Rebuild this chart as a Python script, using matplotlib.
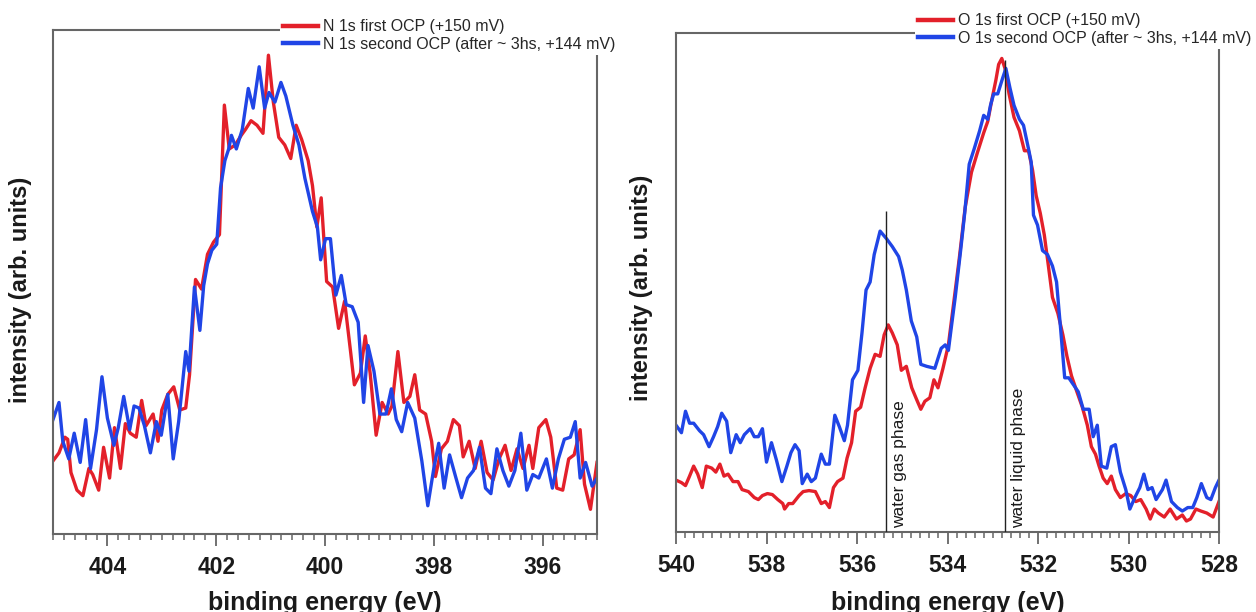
import matplotlib
matplotlib.use("Agg")
import matplotlib.pyplot as plt
from matplotlib.ticker import MultipleLocator, FixedLocator

plt.rcParams['font.family'] = ['Liberation Sans', 'DejaVu Sans']

# ---------------- data: N 1s ----------------
n1s_first_E = [405.00, 404.89, 404.78, 404.73, 404.67, 404.56, 404.45, 404.34, 404.27, 404.16,
               404.07, 403.96, 403.87, 403.76, 403.67, 403.58, 403.47, 403.37, 403.29, 403.16,
               403.07, 403.00, 402.89, 402.78, 402.67, 402.56, 402.49, 402.38, 402.27, 402.16,
               402.05, 401.94, 401.85, 401.76, 401.65, 401.54, 401.46, 401.36, 401.25, 401.14,
               401.04, 400.95, 400.85, 400.74, 400.63, 400.53, 400.43, 400.31, 400.23, 400.15,
               400.07, 399.97, 399.86, 399.75, 399.64, 399.53, 399.46, 399.35, 399.26, 399.17,
               399.06, 398.95, 398.84, 398.77, 398.66, 398.55, 398.44, 398.35, 398.26, 398.15,
               398.04, 397.97, 397.86, 397.75, 397.64, 397.53, 397.46, 397.35, 397.24, 397.13,
               397.02, 396.91, 396.80, 396.69, 396.58, 396.47, 396.36, 396.25, 396.18, 396.07,
               395.94, 395.85, 395.74, 395.63, 395.52, 395.42, 395.31, 395.23, 395.12, 395.00]
n1s_first_I = [14.5, 16.1, 19.2, 18.8, 12.2, 8.7, 7.6, 13.0, 11.8, 8.7,
               17.2, 11.1, 21.1, 13.0, 21.9, 20.0, 19.2, 26.5, 21.5, 23.8,
               18.4, 24.6, 27.7, 29.2, 24.6, 25.0, 31.6, 50.5, 48.6, 55.5,
               57.9, 59.4, 85.1, 76.4, 77.2, 79.1, 80.3, 82.0, 81.1, 79.5,
               95.0, 85.7, 78.7, 77.2, 74.5, 81.1, 78.3, 74.1, 69.1, 60.9,
               66.7, 50.1, 49.0, 40.8, 46.2, 36.2, 29.6, 31.9, 39.3, 31.9,
               19.6, 26.1, 23.8, 25.4, 36.2, 26.1, 27.3, 31.6, 24.6, 23.8,
               18.4, 11.4, 16.9, 18.4, 22.7, 21.5, 15.3, 18.4, 13.0, 18.4,
               12.2, 10.7, 14.9, 17.6, 12.6, 16.9, 13.0, 17.6, 13.0, 21.1,
               22.7, 19.2, 9.1, 8.7, 14.9, 15.7, 20.7, 9.9, 4.9, 14.2]

n1s_second_E = [405.00, 404.89, 404.82, 404.71, 404.61, 404.50, 404.40, 404.31, 404.20, 404.10,
                404.00, 403.88, 403.80, 403.70, 403.59, 403.51, 403.42, 403.32, 403.21, 403.10,
                403.01, 402.89, 402.79, 402.69, 402.56, 402.50, 402.40, 402.30, 402.23, 402.16,
                402.08, 401.99, 401.92, 401.84, 401.77, 401.72, 401.63, 401.52, 401.41, 401.32,
                401.21, 401.11, 401.03, 400.92, 400.81, 400.72, 400.59, 400.48, 400.37, 400.23,
                400.14, 400.08, 399.99, 399.90, 399.80, 399.70, 399.61, 399.50, 399.39, 399.29,
                399.21, 399.10, 398.99, 398.88, 398.78, 398.69, 398.59, 398.48, 398.35, 398.22,
                398.11, 398.00, 397.91, 397.81, 397.71, 397.60, 397.49, 397.38, 397.27, 397.16,
                397.05, 396.95, 396.84, 396.73, 396.62, 396.51, 396.40, 396.29, 396.18, 396.07,
                395.93, 395.82, 395.71, 395.60, 395.49, 395.40, 395.31, 395.21, 395.09, 395.00]
n1s_second_I = [22.7, 26.1, 18.4, 14.9, 20.0, 14.2, 22.7, 13.0, 20.7, 31.2,
                23.0, 17.6, 21.1, 27.3, 20.7, 25.4, 25.0, 21.5, 16.1, 22.3,
                19.6, 27.7, 14.9, 22.3, 36.2, 32.3, 49.0, 40.4, 49.3, 53.6,
                56.3, 57.5, 68.7, 74.1, 76.4, 79.1, 76.4, 80.3, 88.4, 84.5,
                92.7, 84.5, 87.6, 85.7, 89.6, 86.9, 81.1, 77.2, 70.6, 64.0,
                60.9, 54.4, 58.6, 58.6, 47.4, 51.3, 45.5, 45.1, 42.0, 26.1,
                37.4, 32.3, 23.8, 23.8, 28.8, 22.7, 20.3, 26.1, 23.0, 14.5,
                5.6, 13.0, 18.0, 9.1, 15.7, 11.4, 7.2, 11.1, 12.6, 17.2,
                9.1, 8.0, 16.9, 12.6, 9.5, 12.6, 20.0, 8.7, 11.8, 11.1,
                14.9, 9.1, 14.9, 18.8, 19.2, 22.3, 11.1, 14.2, 9.5, 11.1]

# ---------------- data: O 1s ----------------
o1s_first_E = [540.00, 539.88, 539.79, 539.70, 539.61, 539.52, 539.42, 539.33, 539.21, 539.12,
               539.03, 538.94, 538.85, 538.74, 538.63, 538.54, 538.40, 538.27, 538.18, 538.09,
               537.98, 537.87, 537.75, 537.64, 537.60, 537.51, 537.42, 537.28, 537.19, 537.06,
               536.92, 536.79, 536.70, 536.61, 536.52, 536.43, 536.31, 536.22, 536.12, 536.03,
               535.92, 535.82, 535.71, 535.60, 535.49, 535.40, 535.31, 535.22, 535.11, 535.02,
               534.91, 534.79, 534.68, 534.59, 534.50, 534.39, 534.30, 534.21, 534.10, 533.98,
               533.87, 533.74, 533.61, 533.47, 533.34, 533.20, 533.11, 533.02, 532.93, 532.87,
               532.80, 532.73, 532.64, 532.53, 532.41, 532.30, 532.21, 532.12, 532.04, 531.95,
               531.86, 531.77, 531.68, 531.56, 531.45, 531.36, 531.26, 531.14, 531.02, 530.91,
               530.82, 530.73, 530.65, 530.56, 530.47, 530.38, 530.29, 530.18, 530.06, 529.95,
               529.84, 529.73, 529.61, 529.52, 529.43, 529.34, 529.21, 529.08, 528.94, 528.81,
               528.72, 528.63, 528.51, 528.40, 528.27, 528.13, 528.00]
o1s_first_I = [10.4, 9.9, 9.3, 11.2, 13.2, 11.6, 8.9, 13.2, 12.8, 12.0,
               13.6, 11.2, 11.6, 10.1, 10.1, 8.5, 8.1, 6.9, 6.5, 7.3,
               7.7, 7.5, 6.5, 5.7, 4.6, 5.7, 5.7, 7.3, 8.1, 8.3,
               8.1, 5.7, 6.1, 4.9, 8.9, 10.1, 10.8, 14.8, 17.9, 24.2,
               25.0, 28.9, 32.8, 35.6, 35.2, 39.5, 41.5, 39.9, 37.5, 32.4,
               33.2, 28.9, 26.5, 24.6, 26.2, 26.9, 30.5, 28.9, 32.8, 37.5,
               45.4, 54.8, 65.0, 72.1, 76.0, 80.0, 82.3, 86.6, 90.6, 93.7,
               94.9, 92.9, 87.8, 83.1, 80.4, 76.4, 76.4, 72.5, 67.4, 63.9,
               59.5, 53.3, 47.0, 43.8, 39.5, 35.2, 31.3, 28.1, 25.0, 21.4,
               17.1, 15.6, 13.2, 10.8, 9.7, 11.2, 8.5, 6.9, 7.7, 7.3,
               6.1, 6.5, 4.6, 2.6, 4.6, 3.8, 3.0, 4.6, 2.6, 3.4,
               2.2, 2.6, 4.6, 4.2, 3.8, 3.0, 6.1]

o1s_second_E = [540.00, 539.88, 539.79, 539.70, 539.61, 539.48, 539.39, 539.27, 539.17, 539.08,
                538.99, 538.88, 538.79, 538.67, 538.58, 538.49, 538.36, 538.27, 538.18, 538.09,
                538.00, 537.89, 537.78, 537.66, 537.55, 537.46, 537.37, 537.28, 537.21, 537.10,
                537.01, 536.92, 536.79, 536.70, 536.61, 536.49, 536.39, 536.28, 536.21, 536.10,
                535.98, 535.89, 535.80, 535.71, 535.62, 535.49, 535.35, 535.22, 535.08, 535.00,
                534.91, 534.80, 534.68, 534.59, 534.46, 534.28, 534.14, 534.05, 533.98, 533.92,
                533.83, 533.71, 533.62, 533.52, 533.41, 533.29, 533.20, 533.11, 533.05, 532.98,
                532.89, 532.78, 532.71, 532.62, 532.53, 532.41, 532.32, 532.21, 532.15, 532.10,
                532.01, 531.90, 531.79, 531.68, 531.59, 531.50, 531.41, 531.32, 531.23, 531.11,
                531.00, 530.87, 530.78, 530.69, 530.60, 530.48, 530.38, 530.29, 530.18, 530.06,
                529.97, 529.86, 529.75, 529.66, 529.57, 529.48, 529.39, 529.25, 529.17, 529.05,
                528.92, 528.81, 528.69, 528.58, 528.49, 528.39, 528.27, 528.18, 528.08, 528.00]
o1s_second_I = [21.4, 19.9, 24.2, 21.8, 21.8, 20.3, 19.5, 17.1, 19.1, 21.1,
                23.8, 22.2, 15.9, 19.5, 17.9, 19.5, 20.7, 19.1, 19.1, 20.7,
                14.0, 17.9, 14.4, 10.1, 13.2, 15.9, 17.5, 16.3, 9.7, 11.6,
                10.1, 10.8, 15.6, 13.6, 13.6, 23.4, 21.1, 18.3, 21.4, 30.5,
                32.4, 39.9, 48.5, 50.1, 55.6, 60.3, 58.8, 57.2, 55.2, 52.5,
                48.5, 42.3, 39.1, 33.6, 33.2, 32.8, 36.8, 37.5, 36.4, 40.7,
                47.0, 56.4, 63.9, 73.7, 76.8, 80.4, 83.5, 82.7, 85.5, 87.8,
                87.8, 91.0, 92.9, 89.0, 85.5, 82.7, 81.5, 76.8, 74.1, 63.5,
                61.5, 56.4, 55.6, 53.3, 50.1, 40.7, 30.9, 30.9, 29.7, 28.1,
                24.6, 24.6, 19.1, 21.4, 13.2, 12.8, 17.1, 17.5, 12.0, 8.5,
                4.6, 6.9, 8.9, 11.6, 8.5, 8.9, 6.5, 8.5, 10.4, 6.1,
                4.9, 4.2, 4.9, 4.9, 6.9, 9.7, 6.9, 6.5, 8.9, 10.4]

n_labels = ["N 1s first OCP (+150 mV)", "N 1s second OCP (after ~ 3hs, +144 mV)"]
o_labels = ["O 1s first OCP (+150 mV)", "O 1s second OCP (after ~ 3hs, +144 mV)"]

gas_line_E, gas_line_top = 535.35, 64.3
liq_line_E, liq_line_top = 532.73, 94.5
gas_text_E, liq_text_E = 535.06, 532.42

RED = '#e3202a'
BLUE = '#2045e6'
SPINE = '#666666'
TXT = '#1a1a1a'

W, H = 1256, 612
fig = plt.figure(figsize=(W / 100, H / 100), dpi=100)
fig.patch.set_facecolor('white')

ax1 = fig.add_axes([53 / W, (H - 534) / H, 544 / W, 504 / H])
ax2 = fig.add_axes([676 / W, (H - 532) / H, 543 / W, 499 / H])


def style(ax, xmin, xmax, major_labeled):
    ax.set_xlim(xmin, xmax)
    ax.set_ylim(0, 100)
    ax.set_yticks([])
    ax.xaxis.set_major_locator(FixedLocator(major_labeled))
    ax.xaxis.set_minor_locator(MultipleLocator(0.2))
    ax.tick_params(axis='x', which='major', direction='out', length=8.5, width=1.3,
                   color=SPINE, labelsize=16.5, labelcolor=TXT, pad=7)
    ax.tick_params(axis='x', which='minor', direction='out', length=4.5, width=1.1, color=SPINE)
    for lab in ax.get_xticklabels():
        lab.set_fontweight('bold')
    for sp in ax.spines.values():
        sp.set_color(SPINE)
        sp.set_linewidth(1.5)


lw = 2.4
ax1.plot(n1s_first_E, n1s_first_I, color=RED, lw=lw, label=n_labels[0])
ax1.plot(n1s_second_E, n1s_second_I, color=BLUE, lw=lw, label=n_labels[1])
style(ax1, 405, 395, [404, 402, 400, 398, 396])

ax2.plot(o1s_first_E, o1s_first_I, color=RED, lw=lw, label=o_labels[0])
ax2.plot(o1s_second_E, o1s_second_I, color=BLUE, lw=lw, label=o_labels[1])
style(ax2, 540, 528, [540, 538, 536, 534, 532, 530, 528])

ax2.vlines([gas_line_E], 0, gas_line_top, color='#222222', lw=1.0, zorder=3)
ax2.vlines([liq_line_E], 0, liq_line_top, color='#222222', lw=1.0, zorder=3)
ax2.text(gas_text_E, 0.8, "water gas phase", rotation=90, ha='center', va='bottom',
         fontsize=12.5, color=TXT)
ax2.text(liq_text_E, 0.8, "water liquid phase", rotation=90, ha='center', va='bottom',
         fontsize=12.5, color=TXT)

for ax, lx, ly in ((ax1, -0.038, 0.485), (ax2, -0.042, 0.49)):
    ax.set_ylabel("intensity (arb. units)", fontsize=17, fontweight='bold', color=TXT)
    ax.yaxis.set_label_coords(lx, ly)
    ax.set_xlabel("binding energy (eV)", fontsize=18, fontweight='bold', color=TXT)

ax1.xaxis.set_label_coords(0.5, -0.113)
ax2.xaxis.set_label_coords(0.5, -0.118)
ax1.xaxis.label.set_va('top')
ax2.xaxis.label.set_va('top')

leg_kw = dict(loc='upper left', bbox_transform=fig.transFigure, frameon=True,
              fancybox=False, framealpha=1.0, facecolor='white', edgecolor='none',
              fontsize=11.5, handlelength=2.2, handletextpad=0.3, labelspacing=0.17,
              borderpad=0.2, borderaxespad=0.0)
l1 = ax1.legend(bbox_to_anchor=(280 / W, 1 - 16 / H), **leg_kw)
l2 = ax2.legend(bbox_to_anchor=(915 / W, 1 - 10 / H), **leg_kw)
for leg in (l1, l2):
    for t in leg.get_texts():
        t.set_color('#262626')
    for h in leg.get_lines():
        h.set_linewidth(3.2)

fig.savefig("out.png", dpi=100, facecolor='white')
